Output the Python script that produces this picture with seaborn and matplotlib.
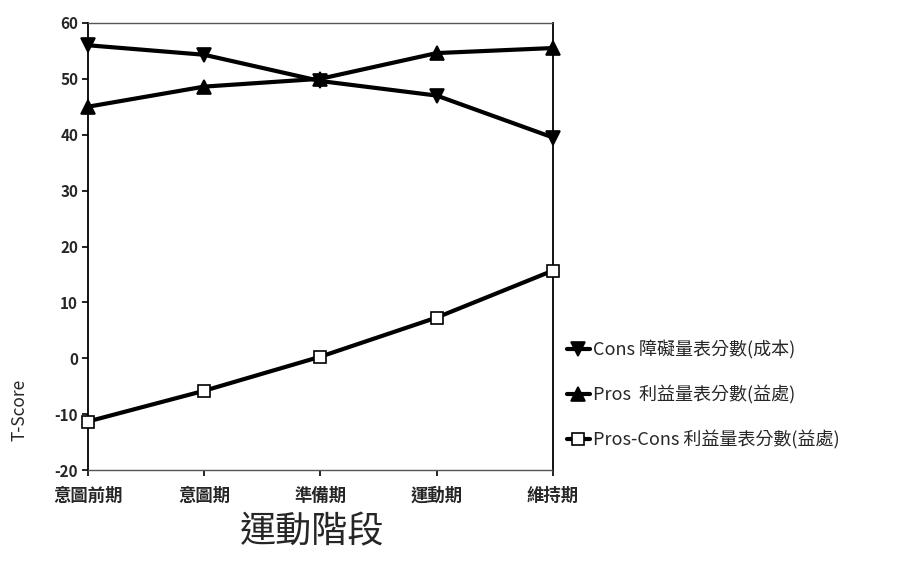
import pandas as pd
import matplotlib.pyplot as plt
import seaborn as sns

sns.set_theme(style="white")
plt.rcParams['font.family'] = ['Noto Sans CJK TC', 'DejaVu Sans']
plt.rcParams['axes.unicode_minus'] = False

stages = ["意圖前期", "意圖期", "準備期", "運動期", "維持期"]
cons = [56.0, 54.3, 49.6, 47.0, 39.5]
pros = [45.0, 48.6, 50.0, 54.6, 55.5]
pros_minus_cons = [-11.3, -5.8, 0.3, 7.3, 15.7]

series_names = ["Cons 障礙量表分數(成本)", "Pros  利益量表分數(益處)", "Pros-Cons 利益量表分數(益處)"]
series_values = [cons, pros, pros_minus_cons]
series_markers = ["v", "^", "s"]


def run_plot():
    fig = plt.figure(figsize=(9.05, 5.72), dpi=100)
    ax = fig.add_axes([0.097, 0.178, 0.514, 0.782])

    for name, vals, mk in zip(series_names, series_values, series_markers):
        df = pd.DataFrame({"x": range(len(stages)), "y": vals})
        filled = mk != "s"
        sns.lineplot(data=df, x="x", y="y", ax=ax, color="black", linewidth=3,
                     marker=mk, markersize=10 if filled else 9,
                     markerfacecolor="black" if filled else "white",
                     markeredgecolor="black", markeredgewidth=1.2,
                     label=name, clip_on=False, zorder=3)

    ax.set_xlim(0, len(stages) - 1)
    ax.set_ylim(-20, 60)
    ax.set_yticks(range(-20, 61, 10))
    ax.set_xticks(range(len(stages)))
    ax.set_xticklabels(stages, fontsize=12.5, fontweight="bold")
    for t in ax.get_yticklabels():
        t.set_fontsize(11)
        t.set_fontweight("bold")
    ax.tick_params(axis="both", direction="out", length=4, width=1.2,
                   color="black", left=True, bottom=True)
    ax.tick_params(axis="x", pad=8)
    ax.tick_params(axis="y", pad=3)
    for side in ["left", "right"]:
        ax.spines[side].set_color("black")
        ax.spines[side].set_linewidth(1.3)
    for side in ["top", "bottom"]:
        ax.spines[side].set_color("#555555")
        ax.spines[side].set_linewidth(1.0)
        ax.spines[side].set_linestyle((0, (4, 1)))
    ax.grid(False)

    ax.set_xlabel("")
    ax.set_ylabel("")
    fig.text(0.012, 0.283, "T-Score", rotation=90, fontsize=12.5,
             ha="left", va="center")
    fig.text(0.345, 0.07, "運動階段", fontsize=26,
             ha="center", va="center")

    handles, labels = ax.get_legend_handles_labels()
    ax.legend_.remove()
    fig.legend(handles, labels, loc="upper left", bbox_to_anchor=(0.618, 0.418),
               frameon=False, fontsize=13, labelspacing=1.45, handlelength=1.3,
               handletextpad=0.15, borderaxespad=0)

    fig.savefig("out.png", dpi=100)
    plt.close(fig)


if __name__ == "__main__":
    run_plot()
